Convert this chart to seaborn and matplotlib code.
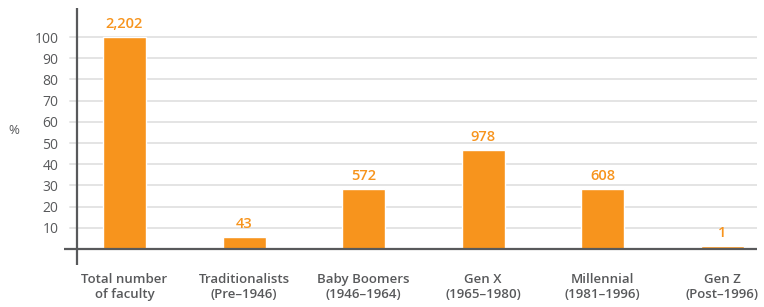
import matplotlib
matplotlib.use('Agg')
import matplotlib.pyplot as plt
import seaborn as sns
import pandas as pd

# values (share of faculty, %)
categories = ['Total number\nof faculty', 'Traditionalists\n(Pre\u20131946)',
              'Baby Boomers\n(1946\u20131964)', 'Gen X\n(1965\u20131980)',
              'Millennial\n(1981\u20131996)', 'Gen Z\n(Post\u20131996)']
pct = [100, 5.8, 28.3, 46.7, 28.3, 1.6]
counts = ['2,202', '43', '572', '978', '608', '1']
yticks = [10, 20, 30, 40, 50, 60, 70, 80, 90, 100]

ORANGE = '#F7941D'
GREY = '#58595B'

df = pd.DataFrame({'cat': categories, 'pct': pct})

sns.set_style('white')
plt.rcParams['font.family'] = ['Open Sans', 'DejaVu Sans']

fig = plt.figure(figsize=(7.64, 3.07), dpi=100)
ax = fig.add_axes([64 / 764, 42 / 307, 693 / 764, 257 / 307])

sns.barplot(data=df, x='cat', y='pct', color=ORANGE, saturation=1,
            width=0.36, ax=ax, zorder=3)

ax.set_xlim(-0.506, 5.29)
ax.set_ylim(-7.55, 113.7)

# light grid
for t in yticks:
    ax.axhline(t, xmin=6 / 693, xmax=1, color='#e4e4e4', lw=1.4, zorder=1)

# axis lines
for s in ax.spines.values():
    s.set_visible(False)
ax.axhline(0, color=GREY, lw=1.6, zorder=4)
ax.axvline(-0.397, color=GREY, lw=1.6, zorder=4)

ax.set_yticks(yticks)
ax.set_yticklabels([str(t) for t in yticks], color=GREY, fontsize=10)
ax.tick_params(axis='y', length=0, pad=4)
ax.set_xticks(range(len(categories)))
ax.set_xticklabels(categories, color=GREY, fontsize=9.5, fontweight='semibold',
                   linespacing=1.2)
ax.tick_params(axis='x', length=0, pad=6)
ax.set_xlabel('')
ax.set_ylabel('')

fig.text(14 / 764, 1 - 130 / 307, '%', color=GREY, fontsize=9.5,
         ha='center', va='center')

for i, (v, c) in enumerate(zip(pct, counts)):
    ax.annotate(c, (i, v), xytext=(0, 4), textcoords='offset points',
                ha='center', va='bottom', color=ORANGE, fontsize=10.5,
                fontweight='semibold')

plt.savefig('out.png', dpi=100)
plt.close()
